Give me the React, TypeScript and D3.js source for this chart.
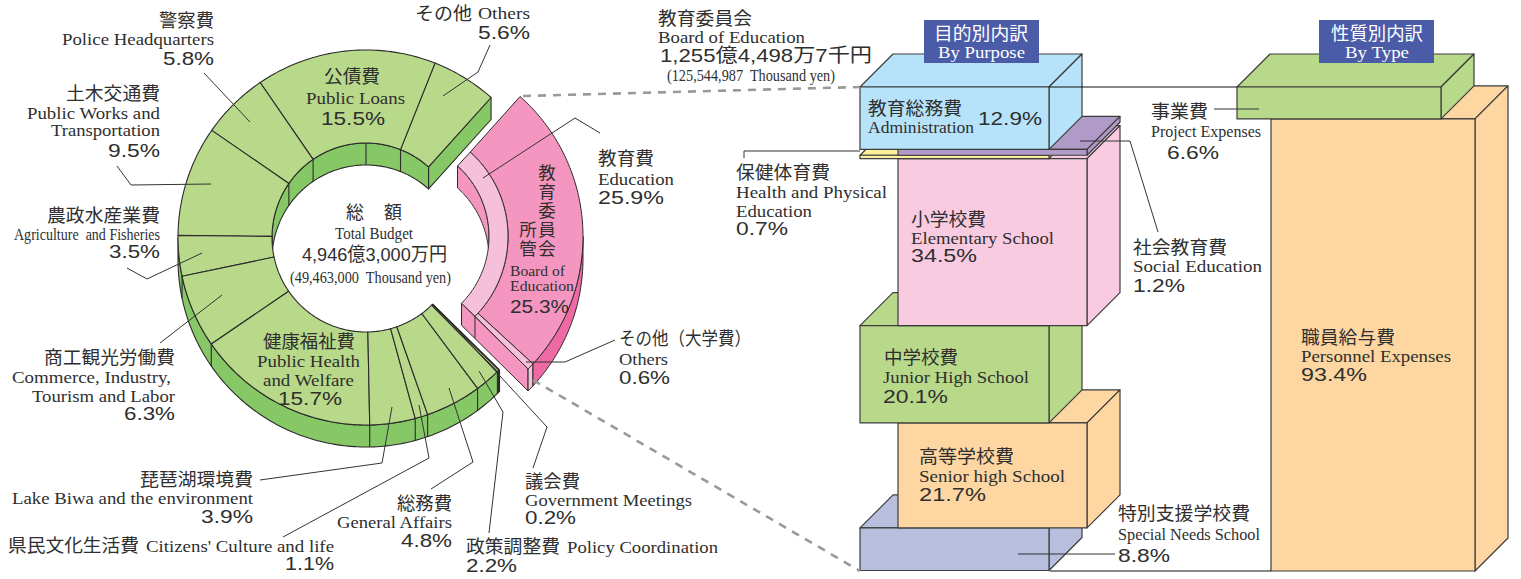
import React from "react";
import * as d3 from "d3";

// ---------- data ----------
const budgetNames = ["その他", "公債費", "警察費", "土木交通費", "農政水産業費", "商工観光労働費", "健康福祉費", "琵琶湖環境費", "県民文化生活費", "総務費", "政策調整費", "議会費"];
const budgetValues = [5.6, 15.5, 5.8, 9.5, 3.5, 6.3, 15.7, 3.9, 1.1, 4.8, 2.2, 0.2];
const educationNames = ["教育委員会", "その他(大学費)"];
const educationValues = [25.3, 0.6];
const educationTotal = 25.9;
const purposeNames = ["教育総務費", "社会教育費", "保健体育費", "小学校費", "中学校費", "高等学校費", "特別支援学校費"];
const purposeValues = [12.9, 1.2, 0.7, 34.5, 20.1, 21.7, 8.8];
const typeNames = ["事業費", "職員給与費"];
const typeValues = [6.6, 93.4];

// ---------- styles ----------
const purposeFill = ["#b6e3f9", "#b09ac8", "#fdf29c", "#f9cbe0", "#b9d98a", "#fdd6a1", "#b8bedd"];
const purposeIndent = [0, 38, 0, 38, 0, 38, 0];
const typeFill = ["#b9d98a", "#fdd6a1"];
const GREEN = "#b9d98a", GREEN_WALL = "#87c866";
const PINK = "#f496bf", PINK_LIGHT = "#f7c0da", PINK_DARK = "#ef6aa5";
const INK = "#2b2b2b", TXT = "#2f2f2f";

type Pt = [number, number];
const path = d3.line<Pt>();
const closed = (p: Pt[]) => path(p) + "Z";

// circle helpers (angle in degrees, clockwise from the top)
const ell = (cx: number, cy: number, rx: number, ry: number) => (deg: number): Pt => {
  const r = (deg * Math.PI) / 180;
  return [cx + rx * Math.sin(r), cy - ry * Math.cos(r)];
};
const arc = (f: (d: number) => Pt, a0: number, a1: number): Pt[] => {
  const n = Math.max(2, Math.ceil(Math.abs(a1 - a0)));
  return d3.range(n + 1).map((i) => f(a0 + ((a1 - a0) * i) / n));
};
const down = (p: Pt[], d: number): Pt[] => p.map(([x, y]) => [x, y + d] as Pt);

const DEPTH = 22;
const START = 41.7;
const DEG_PER_PCT = 3.6;
// green ring
const gOut = ell(366, 237.5, 188, 187.5);
const gIn = ell(366, 237.5, 94, 94.5);
const budgetSum = d3.sum(budgetValues);
const gA = d3.scaleLinear().domain([0, budgetSum]).range([START, START - budgetSum * DEG_PER_PCT]);
const budgetCum = [0, ...d3.cumsum(budgetValues)];

// pink ring (pulled out to the right)
const pOut = ell(395, 236.5, 188, 187.5);
const pMid = ell(395, 236.5, 113, 113);
const pIn = ell(395, 236.5, 94, 94.5);
const pA = d3.scaleLinear().domain([0, educationTotal]).range([START, START + educationTotal * DEG_PER_PCT]);

// bar stacks
const stackY = d3.scaleLinear().domain([0, 100]).range([87, 571]);
const BACK = 33;

function Block({ x, w, y0, y1, fill }: { x: number; w: number; y0: number; y1: number; fill: string }) {
  const top: Pt[] = [[x, y0], [x + BACK, y0 - BACK], [x + w + BACK, y0 - BACK], [x + w, y0]];
  const side: Pt[] = [[x + w, y0], [x + w + BACK, y0 - BACK], [x + w + BACK, y1 - BACK], [x + w, y1]];
  const front: Pt[] = [[x, y0], [x + w, y0], [x + w, y1], [x, y1]];
  return (
    <g fill={fill} stroke="#3c3c3c" strokeWidth={1.2} strokeLinejoin="round">
      <path d={closed(top)} />
      <path d={closed(side)} />
      <path d={closed(front)} />
    </g>
  );
}

const pct = (v: number) => `${v.toFixed(1)}%`;

type Row = [number, number, number, "j" | "e" | "p" | "n" | "s", string];
const [vOthers, vLoans, vPolice, vWorks, vAgri, vCommerce, vHealth, vLake, vCulture, vGeneral, vPolicy, vGov] = budgetValues;
const rows: Row[] = [
  [159, 27, 55, "j", budgetNames[2]], [62, 45, 152, "e", "Police Headquarters"], [163, 65, 51, "p", pct(vPolice)],
  [66, 100, 94, "j", budgetNames[3]], [27, 119, 133, "e", "Public Works and"], [51, 136, 109, "e", "Transportation"], [108, 157, 52, "p", pct(vWorks)],
  [47, 222, 113, "j", budgetNames[4]], [14, 240, 146, "e", "Agriculture  and Fisheries"], [109, 258, 51, "p", pct(vAgri)],
  [44, 364, 131, "j", budgetNames[5]], [12, 383, 159, "e", "Commerce, Industry,"], [32, 402, 143, "e", "Tourism and Labor"], [124, 420, 51, "p", pct(vCommerce)],
  [140, 486, 113, "j", budgetNames[7]], [12, 504, 241, "e", "Lake Biwa and the environment"], [201, 523, 52, "p", pct(vLake)],
  [8, 552, 131, "j", budgetNames[8]], [146, 552, 188, "e", "Citizens' Culture and life"], [285, 570, 49, "p", pct(vCulture)],
  [397, 510, 55, "j", budgetNames[9]], [337, 528, 115, "e", "General Affairs"], [401, 547, 51, "p", pct(vGeneral)],
  [525, 488, 55, "j", budgetNames[11]], [525, 506, 167, "e", "Government Meetings"], [525, 524, 51, "p", pct(vGov)],
  [466, 553, 94, "j", budgetNames[10]], [567, 553, 151, "e", "Policy Coordination"], [466, 572, 51, "p", pct(vPolicy)],
  [415, 20, 57, "j", budgetNames[0]], [478, 19, 52, "e", "Others"], [478, 39, 52, "p", pct(vOthers)],
  [324, 83, 56, "j", budgetNames[1]], [306, 104, 99, "e", "Public Loans"], [321, 125, 64, "p", pct(vLoans)],
  [263, 348, 92, "j", budgetNames[6]], [257, 367, 103, "e", "Public Health"], [263, 386, 91, "e", "and Welfare"], [278, 405, 64, "p", pct(vHealth)],
  [346, 219, 18, "j", "総"], [384, 219, 18, "j", "額"], [335, 239, 78, "e", "Total Budget"], [302, 261, 145, "n", "4,946億3,000万円"], [290, 283, 161, "e", "(49,463,000  Thousand yen)"],
  [598, 165, 56, "j", "教育費"], [598, 185, 76, "e", "Education"], [598, 204, 66, "p", pct(educationTotal)],
  [619, 345, 132, "j", "その他（大学費）"], [619, 365, 49, "e", "Others"], [619, 384, 51, "p", pct(educationValues[1])],
  [510, 276, 55, "s", "Board of"], [510, 291, 64, "s", "Education"], [510, 313, 59, "p", pct(educationValues[0])],
  [658, 25, 94, "j", educationNames[0]], [658, 43, 147, "e", "Board of Education"], [660, 62, 212, "n", "1,255億4,498万7千円"], [667, 81, 168, "e", "(125,544,987  Thousand yen)"],
  [736, 179, 94, "j", purposeNames[2]], [736, 198, 151, "e", "Health and Physical"], [736, 217, 76, "e", "Education"], [736, 235, 52, "p", pct(purposeValues[2])],
  [868, 115, 94, "j", purposeNames[0]], [868, 133, 106, "e", "Administration"], [978, 125, 64, "p", pct(purposeValues[0])],
  [911, 226, 75, "j", purposeNames[3]], [911, 244, 143, "e", "Elementary School"], [911, 262, 66, "p", pct(purposeValues[3])],
  [884, 364, 74, "j", purposeNames[4]], [883, 383, 146, "e", "Junior High School"], [883, 403, 65, "p", pct(purposeValues[4])],
  [919, 463, 95, "j", purposeNames[5]], [919, 482, 146, "e", "Senior high School"], [919, 501, 67, "p", pct(purposeValues[5])],
  [1118, 520, 132, "j", purposeNames[6]], [1118, 540, 142, "e", "Special Needs School"], [1118, 562, 52, "p", pct(purposeValues[6])],
  [1133, 254, 94, "j", purposeNames[1]], [1133, 272, 129, "e", "Social Education"], [1133, 292, 52, "p", pct(purposeValues[1])],
  [1151, 118, 57, "j", typeNames[0]], [1151, 137, 110, "e", "Project Expenses"], [1167, 159, 52, "p", pct(typeValues[0])],
  [1301, 344, 94, "j", typeNames[1]], [1301, 362, 150, "e", "Personnel Expenses"], [1301, 381, 66, "p", pct(typeValues[1])],
];

const font: Record<string, { f: string; s: number }> = {
  j: { f: "'Noto Sans CJK JP'", s: 18.5 },
  e: { f: "'Liberation Serif'", s: 17.5 },
  s: { f: "'Liberation Serif'", s: 14.5 },
  p: { f: "'Liberation Sans'", s: 19 },
  n: { f: "'Liberation Sans','Noto Sans CJK JP'", s: 19 },
};

const leaders: Pt[][] = [
  [[204, 73], [250, 122]],
  [[490, 45], [478, 72], [443, 96]],
  [[117, 166], [131, 185], [211, 184]],
  [[127, 268], [147, 279], [202, 253]],
  [[160, 343], [222, 295]],
  [[260, 480], [382, 463], [392, 407]],
  [[283, 537], [429, 458], [419, 405]],
  [[431, 489], [473, 462], [449, 388]],
  [[489, 533], [503, 412], [479, 371]],
  [[533, 468], [547, 427], [440, 311]],
  [[483, 178], [575, 118], [600, 133]],
  [[526, 362], [565, 362], [615, 340]],
  [[744, 158], [744, 151], [860, 151]],
  [[1080, 141], [1130, 141], [1158, 232]],
  [[1214, 109], [1259, 109]],
  [[1018, 554], [1115, 554]],
];

const verticalCols: [number, number, string][] = [
  [547, 164, "教育委員会"],
  [528, 221, "所管"],
];

export default function App() {
  // green
  const slices = budgetValues.map((_, i) => {
    const o = arc(gOut, gA(budgetCum[i]), gA(budgetCum[i + 1]));
    const n = arc(gIn, gA(budgetCum[i + 1]), gA(budgetCum[i]));
    return closed([...o, ...n]);
  });
  const outerWallArc = arc(gOut, -90, gA(budgetSum));
  const innerWallArc = arc(gIn, gA(0), -90);
  const wallOuterTicks = budgetCum.map((c) => gA(c)).filter((a) => a < -90);
  const wallInnerTicks = [...budgetCum.map((c) => gA(c)).filter((a) => a > -90), 0];
  const startOut = gOut(gA(0)), startIn = gIn(gA(0));
  const endOut = gOut(gA(budgetSum)), endIn = gIn(gA(budgetSum));

  // pink
  const pe = educationTotal;
  const pb = educationValues[0];
  const darkFace = [...arc(pOut, pA(0), pA(pb)), ...arc(pMid, pA(pb), pA(0))];
  const lightFace = [...arc(pMid, pA(0), pA(pe)), ...arc(pIn, pA(pe), pA(0))];
  const strip = [...arc(pOut, pA(pb), pA(pe)), ...arc(pMid, pA(pe), pA(pb))];
  const pInnerWall = arc(pIn, pA(0), 90);
  const pDarkWall = arc(pOut, 90, pA(pb));
  const tip = pOut(pA(pe));
  const sw = pOut(pA(pb));
  const inEnd = pIn(pA(pe));
  const midEnd = pMid(pA(pe));

  // stacks
  const purposeCum = [0, ...d3.cumsum(purposeValues)];
  const typeCum = [0, ...d3.cumsum(typeValues)];
  const order = d3.range(purposeValues.length).reverse();

  return (
    <svg width={1521} height={579} viewBox="0 0 1521 579" style={{ position: "absolute", left: 0, top: 0, display: "block", background: "#fff" }}>
      {/* green walls */}
      <g fill={GREEN_WALL} stroke={INK} strokeWidth={1.1} strokeLinejoin="round">
        <path d={closed([...outerWallArc, ...down(outerWallArc, DEPTH).reverse()])} />
        <path d={closed([...innerWallArc, ...down(innerWallArc, DEPTH).reverse()])} />
        <path d={closed([startOut, ...down([startOut], DEPTH), ...down([startIn], DEPTH), startIn])} />
        {wallOuterTicks.map((a, i) => {
          const p = gOut(a);
          return <path key={i} d={path([p, [p[0], p[1] + DEPTH]])!} fill="none" />;
        })}
        {wallInnerTicks.map((a, i) => {
          const p = gIn(a);
          return <path key={i} d={path([p, [p[0], p[1] + DEPTH]])!} fill="none" />;
        })}
      </g>
      {/* green faces */}
      <g fill={GREEN} stroke={INK} strokeWidth={1.1} strokeLinejoin="round">
        {slices.map((d, i) => <path key={budgetNames[i]} d={d} />)}
      </g>
      <path d={path([endOut, [endOut[0], endOut[1] + DEPTH]])!} stroke={INK} strokeWidth={2} fill="none" />
      <path d={path([endOut, endIn])!} stroke={INK} strokeWidth={1.6} fill="none" />

      {/* pink walls */}
      <g stroke={INK} strokeWidth={1} strokeLinejoin="round">
        <path d={closed([...pInnerWall, ...down(pInnerWall, DEPTH).reverse()])} fill={PINK} />
        <path d={closed([inEnd, tip, ...down([tip], DEPTH), ...down([inEnd], DEPTH)])} fill={PINK} />
        <path d={closed([tip, sw, ...down([sw], DEPTH), ...down([tip], DEPTH)])} fill={PINK_LIGHT} />
        <path d={closed([...pDarkWall, ...down(pDarkWall, DEPTH).reverse()])} fill={PINK_DARK} />
        <path d={path([midEnd, [midEnd[0], midEnd[1] + DEPTH]])!} fill="none" />
        <path d={closed(darkFace)} fill={PINK} />
        <path d={closed(lightFace)} fill={PINK_LIGHT} />
        <path d={closed(strip)} fill={PINK_LIGHT} />
      </g>

      {/* stacks */}
      {order.map((i) => (
        <Block key={purposeNames[i]} x={860 + purposeIndent[i]} w={189} y0={stackY(purposeCum[i])} y1={stackY(purposeCum[i + 1])} fill={purposeFill[i]} />
      ))}
      {[1, 0].map((i) => (
        <Block key={typeNames[i]} x={i === 0 ? 1237 : 1271} w={204} y0={stackY(typeCum[i])} y1={stackY(typeCum[i + 1])} fill={typeFill[i]} />
      ))}

      {/* connectors */}
      <g fill="none" stroke="#111" strokeWidth={1}>
        <path d={path([[1049, stackY(0)], [1237, stackY(0)]])!} />
        <path d={path([[1050, stackY(100)], [1271, stackY(100)]])!} />
      </g>
      <g fill="none" stroke="#999" strokeWidth={2.6} strokeDasharray="8 7">
        <path d={path([[523, 96], [860, 87]])!} />
        <path d={path([[533, 380], [860, 571]])!} />
      </g>

      {/* leaders */}
      <g fill="none" stroke="#333" strokeWidth={1}>
        {leaders.map((l, i) => <path key={i} d={path(l)!} />)}
      </g>

      {/* headers */}
      <g>
        <rect x={924} y={20} width={115} height={43} fill="#4a5ba8" />
        <rect x={1319} y={20} width={115} height={43} fill="#4a5ba8" />
        <g fill="#fff">
          <text x={934} y={40} fontFamily={font.j.f} fontSize={18.5} textLength={94} lengthAdjust="spacingAndGlyphs">目的別内訳</text>
          <text x={938} y={58} fontFamily={font.e.f} fontSize={17} textLength={87} lengthAdjust="spacingAndGlyphs">By Purpose</text>
          <text x={1331} y={40} fontFamily={font.j.f} fontSize={18.5} textLength={92} lengthAdjust="spacingAndGlyphs">性質別内訳</text>
          <text x={1345} y={58} fontFamily={font.e.f} fontSize={17} textLength={64} lengthAdjust="spacingAndGlyphs">By Type</text>
        </g>
      </g>

      {/* labels */}
      <g fill={TXT}>
        {rows.map(([x, y, w, k, s], i) => (
          <text key={i} x={x} y={y} fontFamily={font[k].f} fontSize={font[k].s} textLength={w} lengthAdjust="spacingAndGlyphs" xmlSpace="preserve">{s}</text>
        ))}
        {verticalCols.map(([x, y, s]) => (
          <text key={s} x={x} y={y} fontFamily={font.j.f} fontSize={17.5} letterSpacing={1.4} style={{ writingMode: "vertical-rl" }}>{s}</text>
        ))}
      </g>
    </svg>
  );
}
